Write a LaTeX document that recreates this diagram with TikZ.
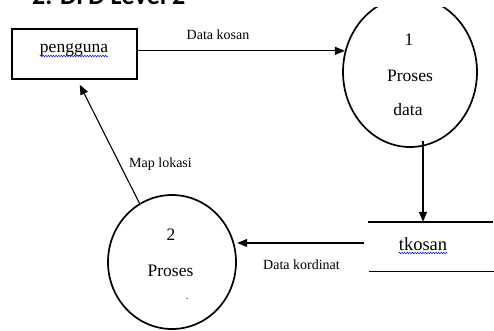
\documentclass[tikz,border=0pt]{standalone}
\usepackage{fontspec}
\setmainfont{Liberation Serif}
\newfontfamily\headfont{Carlito}
\usetikzlibrary{arrows.meta,decorations.pathmorphing,shapes.geometric}

\begin{document}
\begin{tikzpicture}[x=1pt,y=-1pt,
  every node/.style={inner sep=0pt},
  proc/.style={ellipse, draw, line width=1.7pt, inner sep=0pt},
  entity/.style={rectangle, draw, line width=2.4pt, minimum width=125pt, minimum height=50pt},
  flow/.style={line width=1.1pt, -{Triangle[length=10pt,width=8pt]}},
  flowlabel/.style={font=\fontsize{14}{16}\selectfont, anchor=base},
  inlabel/.style={font=\fontsize{17.5}{21}\selectfont, anchor=base},
  squiggle/.style={draw=blue, line width=0.5pt, decorate,
    decoration={snake, amplitude=0.7pt, segment length=2.6pt}},
  storeline/.style={line width=1.4pt}]

\useasboundingbox (0,0) rectangle (494,330);
\clip (0,0) rectangle (494,330);

% external entity
\node[entity] (user) at (74.5,54) {};
\node[inlabel] (userlbl) at (74,52) {pengguna};
\draw[squiggle] ([yshift=-4pt]userlbl.base west) -- ([yshift=-4pt]userlbl.base east);

% process 1
\node[proc, minimum width=134pt, minimum height=150pt] (p1) at (410,72) {};
\node[inlabel] (p1num) at (409,45) {1};
\node[inlabel] (p1name) at (410,81) {Proses};
\node[inlabel] (p1sub) at (408,115) {data};

% heading band on top of the page, hiding the top of process 1
\fill[white] (0,0) rectangle (494,7);
\node[font=\headfont\fontsize{26}{30}\selectfont\bfseries, anchor=base west] (head) at (32,4.5) {2. DFD Level 2};

% process 2
\node[proc, minimum width=128pt, minimum height=134pt] (p2) at (172,262) {};
\node[inlabel] (p2num) at (171,240) {2};
\node[inlabel] (p2name) at (170.5,276) {Proses};
\node[inlabel, font=\fontsize{10}{12}\selectfont] (p2dot) at (187,299) {.};

% data store
\node[minimum width=124pt, minimum height=49pt] (store) at (430.5,246.5) {};
\draw[storeline] (store.north west) -- (store.north east);
\draw[storeline] ([xshift=1pt]store.south west) -- ([xshift=1pt]store.south east);
\node[inlabel, font=\fontsize{18.5}{22}\selectfont] (tk) at (423,250) {tkosan};
\draw[squiggle] ([yshift=-3pt]tk.base west) -- ([yshift=-3pt]tk.base east);

% data flows
\draw[flow] (user.east |- p1.162) -- (p1.162);
\node[flowlabel] (lkos) at (218,39) {Data kosan};

\coordinate (drop) at ([yshift=7pt]p1.south -| tk.north);
\draw[flow] (drop) -- (store.north -| tk.north);

\draw[flow, shorten <=4pt, shorten >=3pt] (store.west |- p2.17) -- (p2.17);
\node[flowlabel] (lkor) at (301.5,269) {Data kordinat};

\draw[flow, shorten >=5pt] (p2.119) -- ([xshift=3pt]user.south);
\node[flowlabel] (lmap) at (160.5,167) {Map lokasi};
\end{tikzpicture}
\end{document}
